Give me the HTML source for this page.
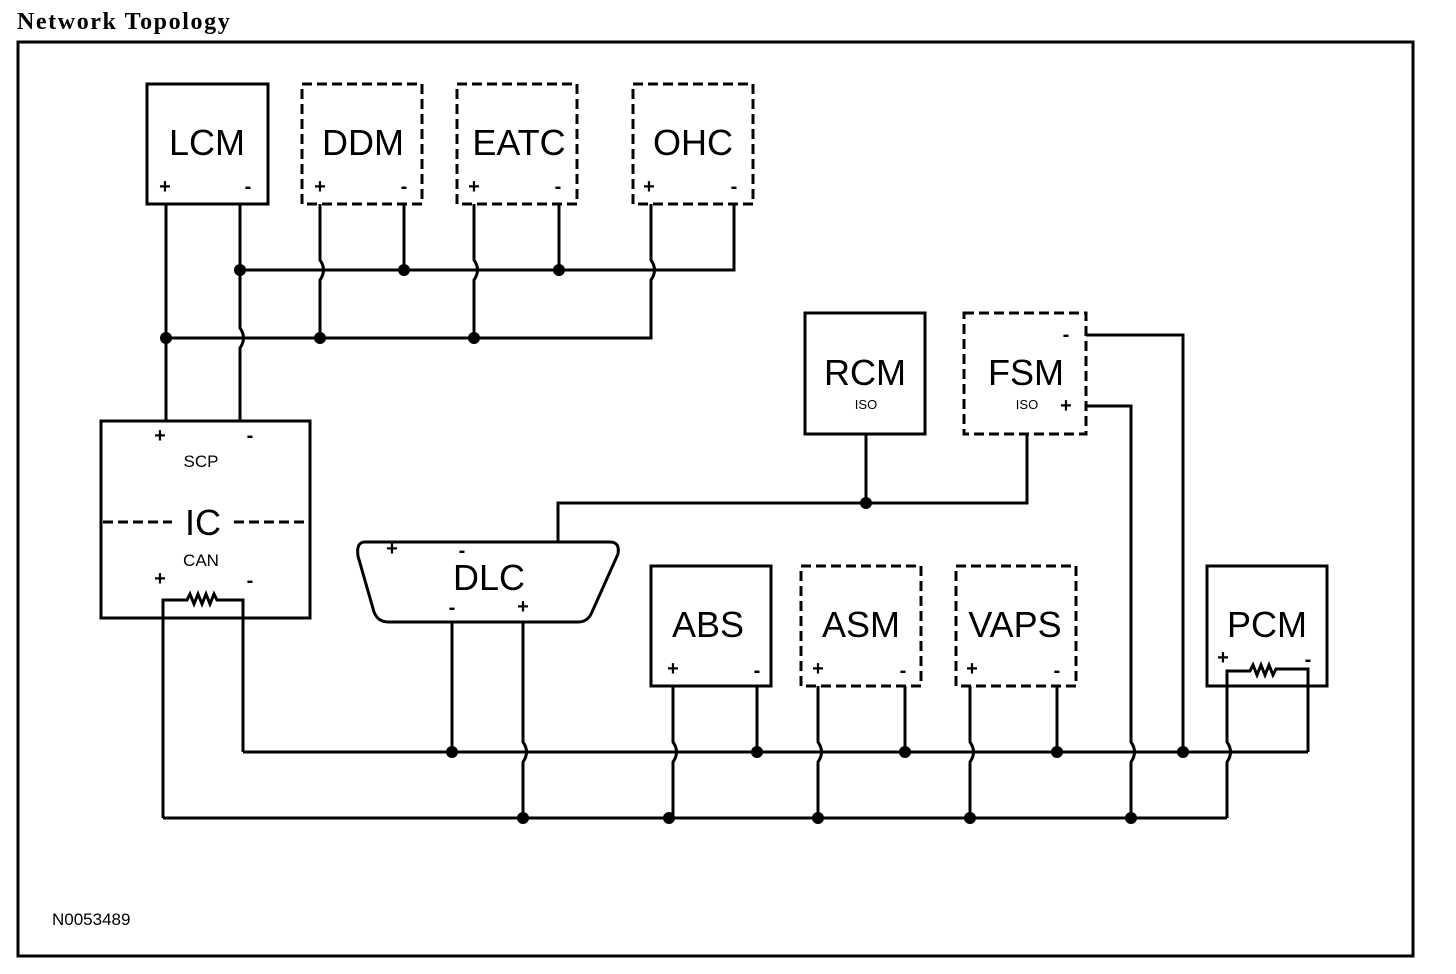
<!DOCTYPE html>
<html><head><meta charset="utf-8"><style>
html,body{margin:0;padding:0;background:#fff;width:1456px;height:974px;overflow:hidden}
svg{display:block}
text{font-family:"Liberation Sans",Arial,sans-serif;fill:#000}
</style></head><body>
<svg width="1456" height="974" viewBox="0 0 1456 974" xmlns="http://www.w3.org/2000/svg">
<text x="17" y="29" style="font-family:'Liberation Serif',serif;font-weight:bold;font-size:24px;letter-spacing:1.6px">Network Topology</text>
<rect x="18" y="42" width="1395" height="914" fill="none" stroke="#000" stroke-width="3"/>
<g fill="none" stroke="#000" stroke-width="3">
<rect x="147" y="84" width="121" height="120"/>
<rect x="302" y="84" width="120" height="120" stroke-dasharray="10,5"/>
<rect x="457" y="84" width="120" height="120" stroke-dasharray="10,5"/>
<rect x="633" y="84" width="120" height="120" stroke-dasharray="10,5"/>
<path d="M166 204V421"/>
<path d="M240 204V328 q7 10 0 20 V421"/>
<path d="M240 270H734V204"/>
<path d="M166 338H651V280 q7 -10 0 -20 V204"/>
<path d="M320 204V260 q7 10 0 20 V338"/>
<path d="M474 204V260 q7 10 0 20 V338"/>
<path d="M404 204V270"/>
<path d="M559 204V270"/>
<rect x="101" y="421" width="209" height="197"/>
<path d="M103 522H172M234 522H306" stroke-dasharray="10,5"/>
<path d="M163 818V600H187l3 -6 4 10 4 -10 4 10 4 -10 4 10 4 -10 3 6H243V752"/>
<path d="M365 542H610q10 0 8 12L592 612q-4 10 -14 10H388q-10 0 -14 -10L358 556q-2 -14 7 -14Z"/>
<path d="M558 542V503H1027V434"/>
<path d="M866 434V503"/>
<path d="M452 622V752"/>
<path d="M523 622V742 q7 10 0 20 V818"/>
<rect x="805" y="313" width="120" height="121"/>
<rect x="964" y="313" width="122" height="121" stroke-dasharray="10,5"/>
<path d="M1086 335H1183V752"/>
<path d="M1086 406H1131V742 q7 10 0 20 V818"/>
<rect x="651" y="566" width="120" height="120"/>
<rect x="801" y="566" width="120" height="120" stroke-dasharray="10,5"/>
<rect x="956" y="566" width="120" height="120" stroke-dasharray="10,5"/>
<rect x="1207" y="566" width="120" height="120"/>
<path d="M673 686V742 q7 10 0 20 V818"/>
<path d="M818 686V742 q7 10 0 20 V818"/>
<path d="M970 686V742 q7 10 0 20 V818"/>
<path d="M757 686V752"/>
<path d="M905 686V752"/>
<path d="M1057 686V752"/>
<path d="M1227 818V762 q7 -10 0 -20 V671H1250l3 -6 4 10 4 -10 4 10 4 -10 4 10 3 -6H1308V752"/>
<path d="M243 752H1308"/>
<path d="M163 818H1227"/>
</g>
<g fill="#000">
<circle cx="240" cy="270" r="6"/><circle cx="404" cy="270" r="6"/><circle cx="559" cy="270" r="6"/>
<circle cx="166" cy="338" r="6"/><circle cx="320" cy="338" r="6"/><circle cx="474" cy="338" r="6"/>
<circle cx="866" cy="503" r="6"/>
<circle cx="452" cy="752" r="6"/><circle cx="757" cy="752" r="6"/><circle cx="905" cy="752" r="6"/><circle cx="1057" cy="752" r="6"/><circle cx="1183" cy="752" r="6"/>
<circle cx="523" cy="818" r="6"/><circle cx="669" cy="818" r="6"/><circle cx="818" cy="818" r="6"/><circle cx="970" cy="818" r="6"/><circle cx="1131" cy="818" r="6"/>
</g>
<g font-size="36" text-anchor="middle">
<text x="207" y="155">LCM</text>
<text x="363" y="155">DDM</text>
<text x="519" y="155">EATC</text>
<text x="693" y="155">OHC</text>
<text x="865" y="385">RCM</text>
<text x="1026" y="385">FSM</text>
<text x="489" y="590">DLC</text>
<text x="708" y="637">ABS</text>
<text x="861" y="637">ASM</text>
<text x="1015" y="637">VAPS</text>
<text x="1267" y="637">PCM</text>
<text x="203" y="535">IC</text>
</g>
<g font-size="20" text-anchor="middle" font-weight="bold">
<text x="165" y="193">+</text><text x="248" y="193">-</text>
<text x="320" y="193">+</text><text x="404" y="193">-</text>
<text x="474" y="193">+</text><text x="558" y="193">-</text>
<text x="649" y="193">+</text><text x="734" y="193">-</text>
<text x="160" y="442">+</text><text x="250" y="442">-</text>
<text x="160" y="585">+</text><text x="250" y="587">-</text>
<text x="392" y="555">+</text><text x="462" y="557">-</text>
<text x="452" y="614">-</text><text x="523" y="613">+</text>
<text x="673" y="675">+</text><text x="757" y="677">-</text>
<text x="818" y="675">+</text><text x="903" y="677">-</text>
<text x="972" y="675">+</text><text x="1057" y="677">-</text>
<text x="1223" y="664">+</text><text x="1308" y="666">-</text>
<text x="1066" y="341">-</text><text x="1066" y="412">+</text>
</g>
<g font-size="17" text-anchor="middle">
<text x="201" y="467">SCP</text>
<text x="201" y="566">CAN</text>
</g>
<g font-size="13" text-anchor="middle">
<text x="866" y="409">ISO</text>
<text x="1027" y="409">ISO</text>
</g>
<text x="52" y="925" font-size="17">N0053489</text>
</svg>
</body></html>
